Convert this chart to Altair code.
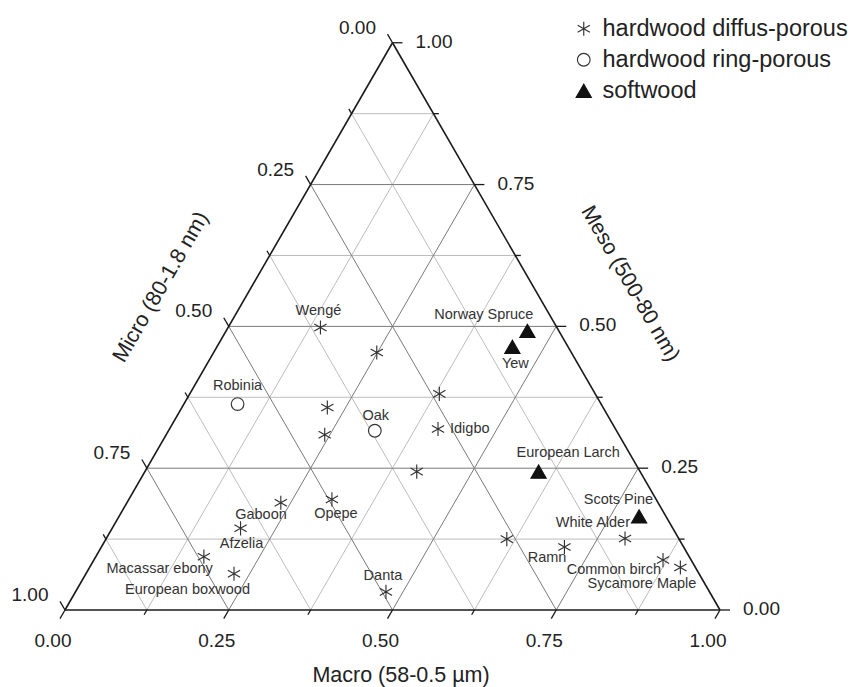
import math
import altair as alt
import pandas as pd

# ------------------------------------------------------------------
# Data: ternary fractions (Macro, Meso, Micro)
# ------------------------------------------------------------------
types = ["hardwood diffus-porous", "hardwood ring-porous", "softwood"]

dp_names = ["Wengé", "", "", "", "", "Idigbo", "", "Gaboon", "Opepe", "Afzelia",
            "Macassar ebony", "European boxwood", "Danta", "", "Ramn",
            "White Alder", "Common birch", "Sycamore Maple"]
dp_macro = [0.141, 0.249, 0.381, 0.222, 0.242, 0.410, 0.415, 0.235, 0.310, 0.196,
            0.165, 0.226, 0.474, 0.612, 0.707, 0.792, 0.869, 0.902]
dp_meso = [0.498, 0.454, 0.381, 0.357, 0.309, 0.319, 0.244, 0.189, 0.195, 0.144,
           0.094, 0.064, 0.032, 0.125, 0.111, 0.126, 0.088, 0.075]
dp_micro = [0.361, 0.297, 0.238, 0.421, 0.449, 0.271, 0.341, 0.576, 0.495, 0.660,
            0.741, 0.710, 0.494, 0.263, 0.182, 0.082, 0.043, 0.023]

rp_names = ["Robinia", "Oak"]
rp_macro = [0.082, 0.315]
rp_meso = [0.363, 0.316]
rp_micro = [0.555, 0.369]

sw_names = ["Norway Spruce", "Yew", "European Larch", "Scots Pine"]
sw_macro = [0.460, 0.451, 0.601, 0.794]
sw_meso = [0.492, 0.464, 0.244, 0.165]
sw_micro = [0.048, 0.085, 0.155, 0.041]

grid_fractions = [0.125, 0.25, 0.375, 0.5, 0.625, 0.75, 0.875]
tick_fractions = [0.0, 0.125, 0.25, 0.375, 0.5, 0.625, 0.75, 0.875, 1.0]
major_fractions = [0.0, 0.25, 0.5, 0.75, 1.0]
tick_labels = ["0.00", "0.25", "0.50", "0.75", "1.00"]

title_macro = "Macro (58-0.5 \u00b5m)"
title_micro = "Micro (80-1.8 nm)"
title_meso = "Meso (500-80 nm)"

# ------------------------------------------------------------------
# Styling / layout (kept apart from the data)
# ------------------------------------------------------------------
label_place = {  # name: (align, dx px, dy px) relative to the point
    "Wengé": ("center", -2, -17),
    "Idigbo": ("left", 12, 0),
    "Gaboon": ("right", 6, 12),
    "Opepe": ("center", 4, 15),
    "Afzelia": ("center", 1, 16),
    "Macassar ebony": ("right", 9, 12),
    "European boxwood": ("right", 16, 16),
    "Danta": ("center", -3, -16),
    "Ramn": ("right", 2, 11),
    "White Alder": ("right", 5, -16),
    "Common birch": ("right", -2, 10),
    "Sycamore Maple": ("right", 16, 17),
    "Robinia": ("center", 0, -18),
    "Oak": ("center", 1, -15),
    "Norway Spruce": ("right", 6, -16),
    "Yew": ("center", 3, 17),
    "European Larch": ("left", -22, -19),
    "Scots Pine": ("right", 14, -16),
}

FONT = "Liberation Sans"
W, H = 846, 679          # plot area (whole svg)
PX = 655.0               # pixels per ternary unit
X0, Y0 = 57.0, 602.0     # plot position of bottom-left vertex
S3 = math.sqrt(3) / 2

ASTERISK = "M0,-1L0,1M-0.866,-0.5L0.866,0.5M-0.866,0.5L0.866,-0.5"

XS = alt.Scale(domain=[-X0 / PX, (W - X0) / PX], nice=False, zero=False)
YS = alt.Scale(domain=[(Y0 - H) / PX, Y0 / PX], nice=False, zero=False)


def X(f):
    return alt.X(f"{f}:Q", scale=XS, axis=None)


def Y(f):
    return alt.Y(f"{f}:Q", scale=YS, axis=None)


def to_cart(macro, meso):
    return macro + meso / 2.0, meso * S3


# ---- points table ----
rows = []
for t, nms, ma, me, mi in [
    (types[0], dp_names, dp_macro, dp_meso, dp_micro),
    (types[1], rp_names, rp_macro, rp_meso, rp_micro),
    (types[2], sw_names, sw_macro, sw_meso, sw_micro),
]:
    for n, a, s, m in zip(nms, ma, me, mi):
        x, y = to_cart(a, s)
        rows.append({"name": n, "type": t, "Macro": a, "Meso": s, "Micro": m, "x": x, "y": y})
pts = pd.DataFrame(rows)

lab_rows = []
for r in rows:
    if r["name"] in label_place:
        al, dx, dy = label_place[r["name"]]
        lab_rows.append({"name": r["name"], "align": al,
                         "lx": r["x"] + dx / PX, "ly": r["y"] - dy / PX})
labs = pd.DataFrame(lab_rows)

# ---- grid ----
grid_rows = []
for f in grid_fractions:
    major = f in (0.25, 0.5, 0.75)
    for (a1, s1), (a2, s2) in [((0, f), (1 - f, f)),
                               ((f, 0), (f, 1 - f)),
                               ((0, 1 - f), (1 - f, 0))]:
        x1, y1 = to_cart(a1, s1)
        x2, y2 = to_cart(a2, s2)
        grid_rows.append({"x": x1, "y": y1, "x2": x2, "y2": y2, "major": major})
grid = pd.DataFrame(grid_rows)

edge_rows = []
for (a1, s1), (a2, s2) in [((0, 0), (1, 0)), ((1, 0), (0, 1)), ((0, 1), (0, 0))]:
    x1, y1 = to_cart(a1, s1)
    x2, y2 = to_cart(a2, s2)
    edge_rows.append({"x": x1, "y": y1, "x2": x2, "y2": y2})
edges = pd.DataFrame(edge_rows)

tick_rows = []
for f in tick_fractions:
    L = (10.0 if f in major_fractions else 5.5) / PX
    for (px_, py_), (ux, uy) in [(to_cart(f, 0), (-0.5, -S3)),
                                 (to_cart(0, 1 - f), (-0.5, S3)),
                                 (to_cart(1 - f, f), (1.0, 0.0))]:
        tick_rows.append({"x": px_, "y": py_, "x2": px_ + L * ux, "y2": py_ + L * uy})
ticks = pd.DataFrame(tick_rows)

bl, ll, rl = [], [], []
for f, lab in zip(major_fractions, tick_labels):
    x, y = to_cart(f, 0)
    bl.append({"x": x, "y": y, "t": lab})
    x, y = to_cart(0, 1 - f)
    ll.append({"x": x, "y": y, "t": lab})
    x, y = to_cart(1 - f, f)
    rl.append({"x": x, "y": y, "t": lab})

mx, my = to_cart(0.5, 0)
lx_, ly_ = to_cart(0, 0.5)
rx_, ry_ = to_cart(0.5, 0.5)
titles = pd.DataFrame([
    {"t": title_macro, "x": mx + 8.5 / PX, "y": my - 66 / PX, "ang": 0},
    {"t": title_micro, "x": lx_ - 78 / PX * S3, "y": ly_ + 78 / PX * 0.5, "ang": 300},
    {"t": title_meso, "x": rx_ + 85 / PX * S3, "y": ry_ + 85 / PX * 0.5, "ang": 60},
])

# ---- layers ----
grid_minor = alt.Chart(grid[~grid["major"]]).mark_rule(color="#bdbdbd", strokeWidth=1).encode(
    x=X("x"), y=Y("y"), x2="x2:Q", y2="y2:Q")
grid_major = alt.Chart(grid[grid["major"]]).mark_rule(color="#7a7a7a", strokeWidth=1).encode(
    x=X("x"), y=Y("y"), x2="x2:Q", y2="y2:Q")
edge_layer = alt.Chart(edges).mark_rule(color="#1a1a1a", strokeWidth=1.6).encode(
    x=X("x"), y=Y("y"), x2="x2:Q", y2="y2:Q")
tick_layer = alt.Chart(ticks).mark_rule(color="#1a1a1a", strokeWidth=1.3).encode(
    x=X("x"), y=Y("y"), x2="x2:Q", y2="y2:Q")

tl_style = dict(font=FONT, fontSize=19, color="#222222", baseline="middle")
bottom_lab = alt.Chart(pd.DataFrame(bl)).mark_text(align="center", dx=-12, dy=31, **tl_style).encode(
    x=X("x"), y=Y("y"), text="t:N")
left_lab = alt.Chart(pd.DataFrame(ll)).mark_text(align="right", dx=-16.5, dy=-15, **tl_style).encode(
    x=X("x"), y=Y("y"), text="t:N")
right_lab = alt.Chart(pd.DataFrame(rl)).mark_text(align="left", dx=23, dy=-1, **tl_style).encode(
    x=X("x"), y=Y("y"), text="t:N")

title_layer = alt.Chart(titles).mark_text(font=FONT, fontSize=21.5, color="#222222",
                                          align="center", baseline="middle").encode(
    x=X("x"), y=Y("y"), text="t:N", angle=alt.Angle("ang:Q", scale=None))

points = alt.Chart(pts).mark_point(opacity=1, strokeWidth=1.15).encode(
    x=X("x"), y=Y("y"),
    shape=alt.Shape("type:N", scale=alt.Scale(domain=types, range=[ASTERISK, "circle", "triangle-up"]),
                    legend=alt.Legend(orient="none", legendX=564, legendY=9, title=None,
                                      labelFont=FONT, labelFontSize=23.5, labelColor="#222222",
                                      labelOffset=7, rowPadding=6, padding=0, labelLimit=0,
                                      symbolStrokeWidth=1.15)),
    fill=alt.Fill("type:N", scale=alt.Scale(domain=types, range=["transparent", "white", "#111111"])),
    stroke=alt.Stroke("type:N", scale=alt.Scale(domain=types, range=["#333333", "#333333", "#111111"])),
    size=alt.Size("type:N", scale=alt.Scale(type="ordinal", domain=types, range=[200, 160, 230])),
)

lab_layers = []
for al in ["left", "center", "right"]:
    sub = labs[labs["align"] == al]
    lab_layers.append(alt.Chart(sub).mark_text(align=al, baseline="middle", font=FONT,
                                               fontSize=14.5, color="#333333").encode(
        x=X("lx"), y=Y("ly"), text="name:N"))

chart = alt.layer(
    grid_minor, grid_major, edge_layer, tick_layer,
    bottom_lab, left_lab, right_lab, title_layer,
    points, *lab_layers,
).properties(
    width=W, height=H, padding=0, autosize=alt.AutoSizeParams(type="none"),
    background="white",
).configure_view(stroke=None)

chart.save("out.html", embed_options={"renderer": "svg", "actions": False})
